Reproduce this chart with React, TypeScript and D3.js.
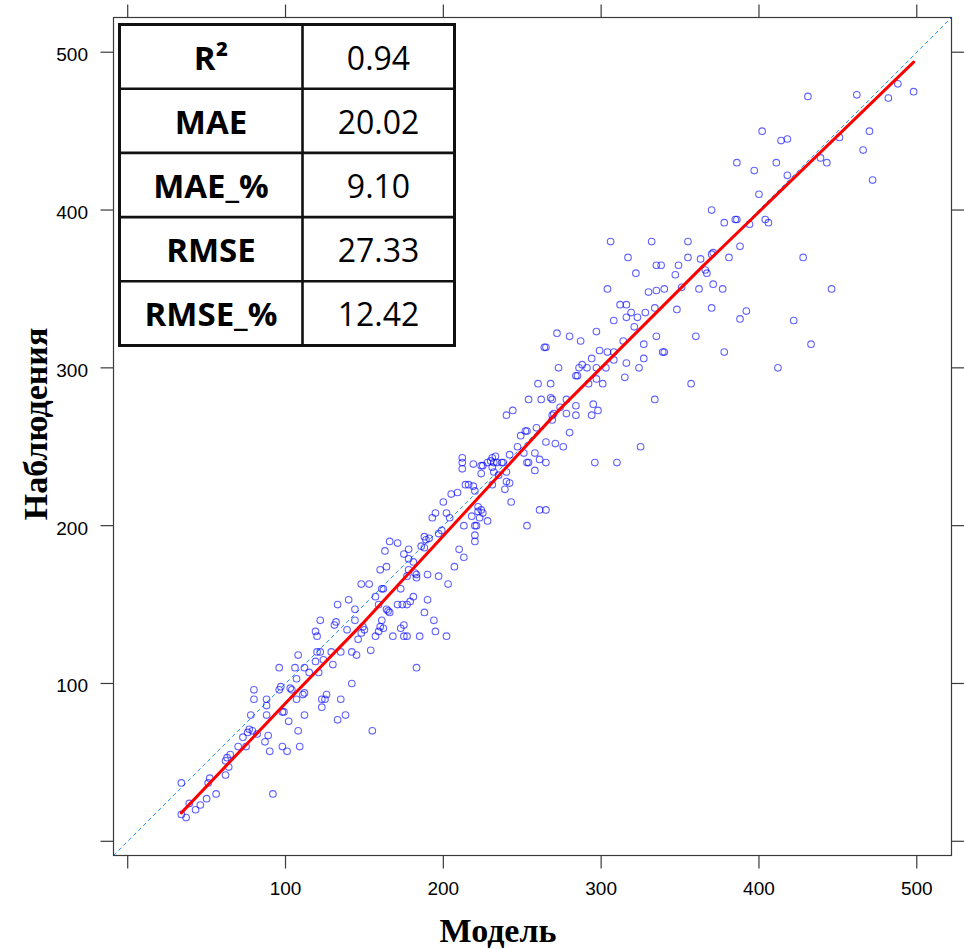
import React from 'react';
import * as d3 from 'd3';

const W = 964;
const H = 949;

const model: number[] = [
  34,34,37,39,43,46,50,56,51,52,62,64,62,63,65,92,70,75,73,76,77,79,82,87,89,90,78,80,80,88,88,88,96,96,97,98,99,102,98,101,108,109,112,103,104,107,106,108,107,111,112,112,115,119,121,120,122,124,119,120,122,126,125,123,123,130,129,135,132,131,133,140,135,133,138,142,142,145,139,144,144,146,155,
  212,212,212,219,214,216,219,220,209,205,200,195,193,202,204,218,222,213,220,221,199,197,220,220,210,213,207,188,191,189,186,188,166,171,163,178,175,178,181,178,177,182,183,183,190,197,203,164,160,148,153,161,162,173,157,159,164,165,166,171,174,177,179,181,190,188,194,195,202,161,160,162,159,157,149,150,148,173,175,175,177,168,185,154,183,
  272,280,287,264,265,291,288,286,284,285,273,292,260,268,254,262,268,269,278,284,274,278,284,244,240,270,269,269,280,259,253,252,249,265,271,276,247,242,251,258,261,265,253,254,258,224,225,228,230,231,233,234,232,237,238,224,231,232,235,240,240,242,239,243,231,224,225,223,228,222,253,261,265,
  370,378,385,386,394,400,306,332,355,317,335,338,349,355,363,370,371,381,388,322,347,366,367,371,377,304,330,335,340,351,362,312,316,334,348,370,308,316,319,323,328,321,388,392,297,314,335,327,360,299,304,308,308,294,297,303,297,301,316,324,327,315,339,340,378,357,334,295,298,294,325,296,310,
  431,462,488,498,482,402,414,418,470,451,466,439,443,386,411,397,418,472,404,406,428,446,422,433,412,
];
const observed: number[] = [
  37,17,15,24,20,23,27,30,37,40,42,47,51,53,55,30,60,60,66,69,71,70,68,63,67,57,80,90,96,80,86,90,110,96,98,82,82,76,60,57,70,60,80,97,96,103,110,118,90,93,94,110,107,114,107,120,120,115,133,130,140,93,90,90,85,112,120,120,139,137,150,153,90,77,80,100,120,118,134,147,140,128,70,
  243,240,236,239,226,226,225,222,221,220,215,208,205,208,205,206,209,200,200,200,197,195,194,190,185,180,174,193,192,191,187,186,190,189,184,185,182,179,177,172,168,170,169,167,169,168,163,174,172,163,163,160,160,160,155,150,147,146,145,150,150,150,152,155,153,145,140,133,130,140,136,135,133,130,136,134,132,135,137,130,130,130,130,121,110,
  322,320,317,313,313,300,302,300,295,295,300,290,290,290,280,280,281,280,280,276,275,271,270,273,270,271,270,267,259,262,260,260,257,253,252,250,250,245,246,246,242,240,240,240,235,238,238,240,241,243,244,240,240,240,240,233,237,234,232,234,228,227,223,215,226,210,208,205,203,212,200,210,210,
  400,392,394,394,391,410,380,380,380,370,365,365,365,370,369,372,373,370,377,360,359,362,360,353,350,350,348,349,350,351,350,340,340,338,337,338,330,332,335,332,335,326,331,336,323,317,320,315,320,311,310,310,305,306,300,300,293,290,303,300,306,294,310,310,310,290,280,277,273,270,250,240,240,
  472,473,480,475,471,450,444,445,450,446,438,433,430,430,430,425,422,419,394,392,370,350,330,315,300,
];

// Smoothed fit line (red)
const fitModel = [34, 103, 147, 221, 274, 363, 498];
const fitObserved = [18, 90.6, 136, 216.4, 274, 363, 493.7];

const axisDomain: [number, number] = [-9, 522];
const tickValues = [0, 100, 200, 300, 400, 500];
const tickLabels = ['', '100', '200', '300', '400', '500'];

const statNames = ['R²', 'MAE', 'MAE_%', 'RMSE', 'RMSE_%'];
const statValues = ['0.94', '20.02', '9.10', '27.33', '12.42'];

const xTitle = 'Модель';
const yTitle = 'Наблюдения';

export default function App() {
  const left = 113.5, right = 951.5, top = 17.5, bottom = 855.5;
  const x = d3.scaleLinear().domain(axisDomain).range([left, right]);
  const y = d3.scaleLinear().domain(axisDomain).range([bottom, top]);

  const fitPts = fitModel.map((m, i) => [m, fitObserved[i]] as [number, number]);
  const fitPath = d3.line<[number, number]>().x(d => x(d[0])).y(d => y(d[1]))(fitPts) || '';

  const frameColor = '#3a3a3a';
  const tickLen = 13;

  // table layout
  const tX = 119.5, tY = 24.5, c1 = 183, c2 = 152, rowH = 64.2;

  return (
    <svg width={W} height={H} style={{ position: 'absolute', left: 0, top: 0, display: 'block', background: '#fff' }}>
      <rect x={0} y={0} width={W} height={H} fill="#fff" />
      {/* reference line y = x */}
      <line x1={x(axisDomain[0])} y1={y(axisDomain[0])} x2={x(axisDomain[1])} y2={y(axisDomain[1])}
        stroke="#1E90FF" strokeWidth={1} strokeDasharray="4,3" />
      {/* points */}
      <g fill="none" stroke="#0000ff" strokeOpacity={0.62} strokeWidth={1.1}>
        {model.map((m, i) => (
          <circle key={i} cx={x(m)} cy={y(observed[i])} r={3.3} />
        ))}
      </g>
      {/* fit line */}
      <path d={fitPath} fill="none" stroke="#ff0000" strokeWidth={3} strokeLinejoin="round" strokeLinecap="round" />
      {/* frame */}
      <rect x={left} y={top} width={right - left} height={bottom - top} fill="none" stroke={frameColor} strokeWidth={1.2} />
      {/* ticks */}
      <g stroke={frameColor} strokeWidth={1.2}>
        {tickValues.map(v => (
          <g key={'t' + v}>
            <line x1={x(v)} x2={x(v)} y1={bottom} y2={bottom + tickLen} />
            <line x1={x(v)} x2={x(v)} y1={top} y2={top - tickLen} />
            <line x1={left} x2={left - tickLen} y1={y(v)} y2={y(v)} />
            <line x1={right} x2={right + tickLen} y1={y(v)} y2={y(v)} />
          </g>
        ))}
      </g>
      <g fontFamily="'Liberation Sans', Arial, sans-serif" fontSize={19} fill="#000">
        {tickValues.map((v, i) => (
          <g key={'l' + v}>
            <text x={x(v)} y={895} textAnchor="middle">{tickLabels[i]}</text>
            <text x={88} y={y(v) + 9} textAnchor="end">{tickLabels[i]}</text>
          </g>
        ))}
      </g>
      {/* axis titles */}
      <text x={498} y={942} textAnchor="middle" fontFamily="'Liberation Serif', 'DejaVu Serif', serif" fontWeight="bold" fontSize={34} fill="#000">{xTitle}</text>
      <text transform={`translate(47,424) rotate(-90)`} textAnchor="middle" fontFamily="'Liberation Serif', 'DejaVu Serif', serif" fontWeight="bold" fontSize={34} fill="#000">{yTitle}</text>
      {/* stats table */}
      <g>
        <rect x={tX} y={tY} width={c1 + c2} height={rowH * statNames.length} fill="#fff" stroke="#111" strokeWidth={3} />
        {statNames.map((n, i) => (
          <g key={n}>
            {i > 0 && <line x1={tX} x2={tX + c1 + c2} y1={tY + rowH * i} y2={tY + rowH * i} stroke="#111" strokeWidth={2.6} />}
            <text x={tX + c1 / 2} y={tY + rowH * i + rowH / 2 + 13} textAnchor="middle" fontFamily="'Open Sans', 'Noto Sans', sans-serif" fontWeight="bold" fontSize={33} fill="#000">{n}</text>
            <text x={tX + c1 + c2 / 2} y={tY + rowH * i + rowH / 2 + 13} textAnchor="middle" fontFamily="'Open Sans', 'Noto Sans', sans-serif" fontSize={32} fill="#000">{statValues[i]}</text>
          </g>
        ))}
        <line x1={tX + c1} x2={tX + c1} y1={tY} y2={tY + rowH * statNames.length} stroke="#111" strokeWidth={2.6} />
      </g>
    </svg>
  );
}
